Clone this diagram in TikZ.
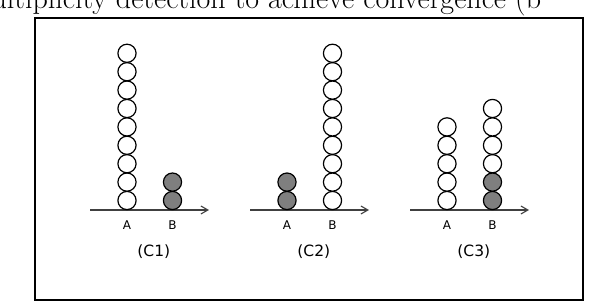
\documentclass[tikz,border=0pt]{standalone}
\usepackage{fontspec}
\newfontfamily\lblfont{DejaVu Sans}
\usetikzlibrary{arrows.meta}
\definecolor{ballgray}{HTML}{7F7F7F}
\definecolor{axisgray}{HTML}{404040}
\tikzset{
  ball/.style={circle, draw=black, line width=1.2pt, minimum size=18.2pt, inner sep=0pt},
  wball/.style={ball, fill=white},
  gball/.style={ball, fill=ballgray},
  axisline/.style={draw=axisgray, line width=1.1pt, -{Straight Barb[length=7pt,width=8pt]}},
  lbl/.style={font=\lblfont\fontsize{12}{14}\selectfont, text=black, inner sep=0pt},
  caplbl/.style={font=\lblfont\fontsize{15.5}{18}\selectfont, text=black, inner sep=0pt},
  frame/.style={draw=black, line width=2pt}
}
\begin{document}
\begin{tikzpicture}[x=1pt,y=-1pt]
\useasboundingbox (0,0) rectangle (600,304);
\node[anchor=base west, inner sep=0pt, font=\fontsize{30}{36}\selectfont] (top) at (-31,8.7) {multiplicity detection to achieve convergence (b};
\draw[frame] (35,18) rectangle (583,300.5);
% panels
\foreach \p/\dx in {1/0,2/160,3/320}{
  \coordinate (s\p) at (90+\dx,210);
  \coordinate (e\p) at (209+\dx,210);
  \node[lbl] (la\p) at (127+\dx,225) {A};
  \node[lbl] (lb\p) at (172.5+\dx,225) {B};
  \node[caplbl] (cap\p) at (153.8+\dx,251.5) {(C\p)};
}
% axes
\foreach \p in {1,2,3}{\draw[axisline] (s\p) -- (e\p);}
% C1
\foreach \i in {0,...,8}{\node[wball] (p1a\i) at (127,200.5-18.4*\i) {};}
\foreach \i in {0,1}{\node[gball] (p1b\i) at (172.5,200.5-18.4*\i) {};}
% C2
\foreach \i in {0,1}{\node[gball] (p2a\i) at (287,200.5-18.4*\i) {};}
\foreach \i in {0,...,8}{\node[wball] (p2b\i) at (332.5,200.5-18.4*\i) {};}
% C3
\foreach \i in {0,...,4}{\node[wball] (p3a\i) at (447,200.5-18.4*\i) {};}
\foreach \i in {0,1}{\node[gball] (p3b\i) at (492.5,200.5-18.4*\i) {};}
\foreach \i in {2,...,5}{\node[wball] (p3b\i) at (492.5,200.5-18.4*\i) {};}
\end{tikzpicture}
\end{document}
